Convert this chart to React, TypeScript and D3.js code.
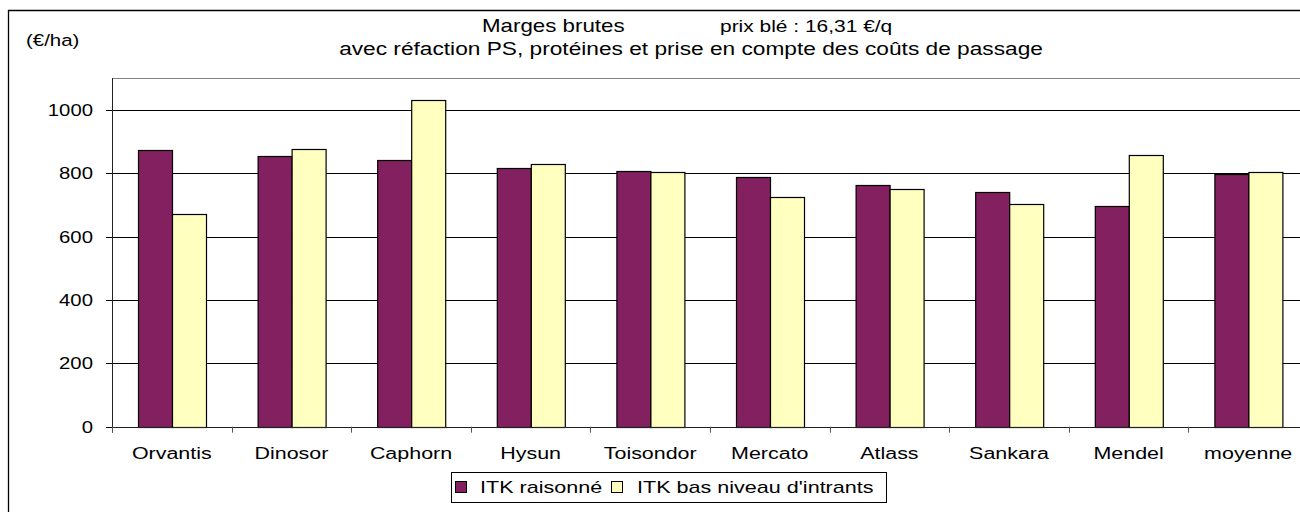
import React, { useRef, useEffect } from 'react';
import * as d3 from 'd3';

const categories = ["Orvantis", "Dinosor", "Caphorn", "Hysun", "Toisondor", "Mercato", "Atlass", "Sankara", "Mendel", "moyenne"];
const itkRaisonne = [873, 853, 841, 816, 808, 788, 764, 740, 695, 797];
const itkBasNiveau = [671, 877, 1031, 829, 804, 726, 751, 703, 857, 804];
const seriesNames = ["ITK raisonné", "ITK bas niveau d'intrants"];
const seriesColors = ["#822060", "#ffffc0"];
const yTicks = [0, 200, 400, 600, 800, 1000];

// the source picture is stretched sideways, text included
const SX = 1.24;

const App = () => {
    const svgRef = useRef(null);

    useEffect(() => {
        if (svgRef.current) {
            drawChart(svgRef.current);
        }
    }, []);

    return (
        <svg ref={svgRef} width={1300} height={512}
            style={{ position: "absolute", left: 0, top: 0, background: "#fff" }} />
    );

    function drawChart(node) {
        const svg = d3.select(node);
        svg.selectAll("*").remove();

        const left = 112, right = 1308, top = 78, bottom = 426.7;
        const font = "'Liberation Sans', Arial, sans-serif";

        const label = (x, y, str, anchor, size) => svg.append("text")
            .attr("transform", `translate(${x},${y}) scale(${SX},1)`)
            .attr("text-anchor", anchor)
            .style("font-family", font)
            .style("font-size", size + "px")
            .style("fill", "#000")
            .text(str);

        // outer frame
        svg.append("path")
            .attr("d", "M8.5,512 V10.5 H1300")
            .style("fill", "none")
            .style("stroke", "#000")
            .style("stroke-width", 1.3);

        const x = d3.scaleBand()
            .domain(categories)
            .range([left, right]);

        const xInner = d3.scaleBand()
            .domain(seriesNames)
            .range([0, x.bandwidth()])
            .paddingOuter(0.75);

        const y = d3.scaleLinear()
            .domain([0, 1100])
            .range([bottom, top]);

        // plot area border (top)
        svg.append("line")
            .attr("x1", left).attr("x2", right)
            .attr("y1", top + 0.5).attr("y2", top + 0.5)
            .style("stroke", "#808080");

        // gridlines
        svg.selectAll(".grid")
            .data(yTicks.filter(d => d > 0))
            .enter().append("line")
            .attr("class", "grid")
            .attr("x1", left).attr("x2", right)
            .attr("y1", d => Math.round(y(d)) + 0.5)
            .attr("y2", d => Math.round(y(d)) + 0.5)
            .style("stroke", "#000");

        // bars
        const data = categories.map((c, i) => ({ c, values: [itkRaisonne[i], itkBasNiveau[i]] }));
        const groups = svg.selectAll(".grp")
            .data(data)
            .enter().append("g")
            .attr("class", "grp")
            .attr("transform", d => "translate(" + x(d.c) + ",0)");

        groups.selectAll("rect")
            .data(d => d.values.map((v, k) => ({ v, k })))
            .enter().append("rect")
            .attr("x", d => Math.round(xInner(seriesNames[d.k])) + 0.5)
            .attr("width", Math.round(xInner.bandwidth()))
            .attr("y", d => Math.round(y(d.v)) + 0.5)
            .attr("height", d => Math.round(y(0)) - Math.round(y(d.v)))
            .style("fill", d => seriesColors[d.k])
            .style("stroke", "#000")
            .style("stroke-width", 1.2);

        // axes
        svg.append("line")
            .attr("x1", left + 0.5).attr("x2", left + 0.5)
            .attr("y1", top).attr("y2", bottom + 6)
            .style("stroke", "#222");
        svg.append("line")
            .attr("x1", left).attr("x2", right)
            .attr("y1", Math.round(bottom) + 0.5).attr("y2", Math.round(bottom) + 0.5)
            .style("stroke", "#222");

        svg.selectAll(".ytick")
            .data(yTicks)
            .enter().append("line")
            .attr("x1", left - 6).attr("x2", left)
            .attr("y1", d => Math.round(y(d)) + 0.5)
            .attr("y2", d => Math.round(y(d)) + 0.5)
            .style("stroke", "#000");

        svg.selectAll(".xtick")
            .data(d3.range(categories.length + 1))
            .enter().append("line")
            .attr("x1", i => Math.round(left + i * x.step()) + 0.5)
            .attr("x2", i => Math.round(left + i * x.step()) + 0.5)
            .attr("y1", bottom)
            .attr("y2", bottom + 6)
            .style("stroke", "#555");

        yTicks.forEach(t => label(93, y(t) + 6, String(t), "end", 16.4));
        categories.forEach(c => label(x(c) + x.bandwidth() / 2, 459, c, "middle", 17.3));

        // titles
        label(26, 46, "(€/ha)", "start", 16.5);
        label(482, 32, "Marges brutes", "start", 18);
        label(720, 32, "prix blé : 16,31 €/q", "start", 16.9);
        label(691, 55, "avec réfaction PS, protéines et prise en compte des coûts de passage", "middle", 18.3);

        // legend
        svg.append("rect")
            .attr("x", 451.5).attr("y", 472.5)
            .attr("width", 435).attr("height", 30)
            .style("fill", "#fff")
            .style("stroke", "#000");

        const legendX = [455, 611];
        const textX = [480, 637];
        seriesNames.forEach((s, i) => {
            svg.append("rect")
                .attr("x", legendX[i] + 0.5).attr("y", 481.5)
                .attr("width", 11).attr("height", 11)
                .style("fill", seriesColors[i])
                .style("stroke", "#000");
            label(textX[i], 493, s, "start", 17.4);
        });
    }
};

export default App;
